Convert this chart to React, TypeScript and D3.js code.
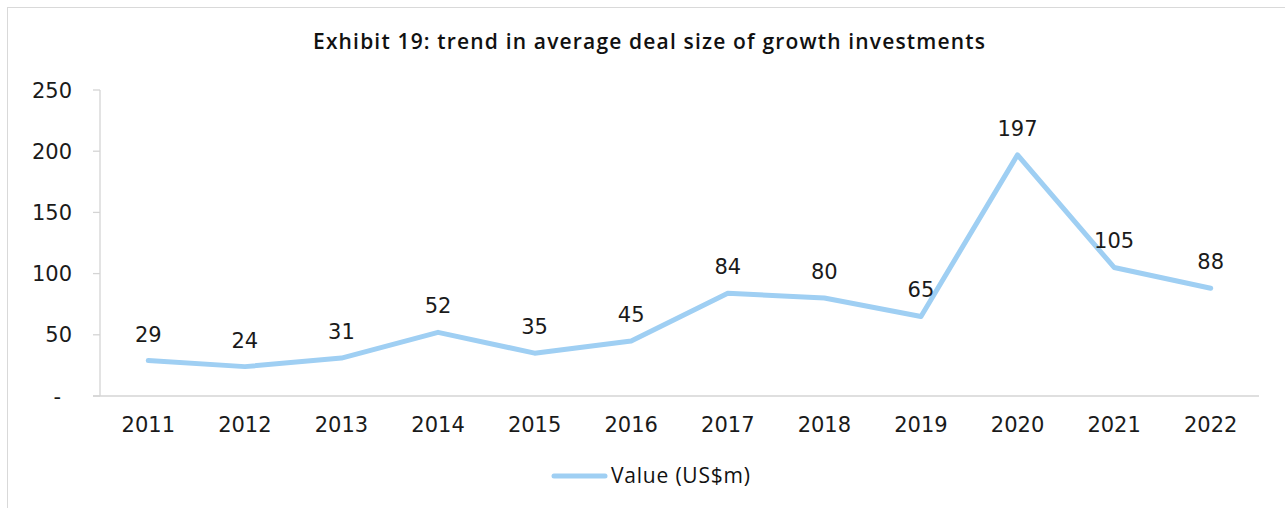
import React from "react";
import * as d3 from "d3";

const categories = ["2011","2012","2013","2014","2015","2016","2017","2018","2019","2020","2021","2022"];
const values = [29, 24, 31, 52, 35, 45, 84, 80, 65, 197, 105, 88];
const yTicks = [0, 50, 100, 150, 200, 250];
const title = "Exhibit 19: trend in average deal size of growth investments";
const seriesName = "Value (US$m)";

const W = 1285, H = 508;
const plot = { left: 100, right: 1259, top: 90, bottom: 396 };
const lineColor = "#9fcff3";
const axisColor = "#d4d4d4";
const numFont = "'DejaVu Sans', Verdana, sans-serif";
const titleFont = "'Open Sans', 'Noto Sans', sans-serif";

export default function App() {
  const x = d3.scaleBand<string>().domain(categories).range([plot.left, plot.right]);
  const y = d3.scaleLinear().domain([0, 250]).range([plot.bottom, plot.top]);
  const cx = (c: string) => (x(c) as number) + x.bandwidth() / 2;
  const line = d3.line<number>().x((_, i) => cx(categories[i])).y((v) => y(v));

  return (
    <svg width={W} height={H} style={{ position: "absolute", left: 0, top: 0, display: "block" }}>
      <rect x={0} y={0} width={W} height={H} fill="#fff" />
      <rect x={7.5} y={7.5} width={W + 50} height={H + 50} fill="none" stroke="#d9d9d9" strokeWidth={1} />
      <text x={649} y={49} textAnchor="middle" fontFamily={titleFont} fontWeight={600} fontSize={21} fill="#111" textLength={672} lengthAdjust="spacing">
        {title}
      </text>
      {/* y axis */}
      <line x1={plot.left} x2={plot.left} y1={plot.top} y2={plot.bottom} stroke={axisColor} strokeWidth={1.3} />
      {yTicks.map((t) => (
        <g key={t}>
          <line x1={plot.left - 7} x2={plot.left} y1={y(t)} y2={y(t)} stroke={axisColor} strokeWidth={1.3} />
          <text x={t === 0 ? 61 : 72} y={y(t)} dy="0.36em" textAnchor="end" fontFamily={numFont} fontSize={21} fill="#1a1a1a">
            {t === 0 ? "-" : String(t)}
          </text>
        </g>
      ))}
      {/* x axis */}
      <line x1={plot.left - 7} x2={plot.right} y1={plot.bottom} y2={plot.bottom} stroke={axisColor} strokeWidth={1.3} />
      {categories.map((c) => (
        <text key={c} x={cx(c)} y={432} textAnchor="middle" fontFamily={numFont} fontSize={21} fill="#1a1a1a">
          {c}
        </text>
      ))}
      <path d={line(values) || ""} fill="none" stroke={lineColor} strokeWidth={5} strokeLinejoin="round" strokeLinecap="round" />
      {values.map((v, i) => (
        <text key={i} x={cx(categories[i])} y={y(v) - 19} textAnchor="middle" fontFamily={numFont} fontSize={21} fill="#1a1a1a">
          {v}
        </text>
      ))}
      {/* legend */}
      <line x1={554} x2={605} y1={476} y2={476} stroke={lineColor} strokeWidth={5} strokeLinecap="round" />
      <text x={611} y={483} fontFamily={titleFont} fontSize={21} fill="#111" textLength={139} lengthAdjust="spacing">
        {seriesName}
      </text>
    </svg>
  );
}
